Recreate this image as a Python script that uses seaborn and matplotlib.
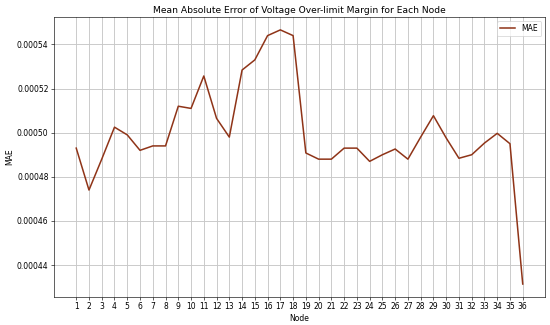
import matplotlib
matplotlib.use("Agg")
import matplotlib.pyplot as plt
import seaborn as sns
import pandas as pd

# Nodes 1..36 and their mean absolute error
nodes = list(range(1, 37))
mae = [0.000493, 0.000474, 0.000488, 0.0005025, 0.000499, 0.000492, 0.000494, 0.000494,
       0.000512, 0.000511, 0.0005257, 0.0005065, 0.000498, 0.0005284, 0.000533, 0.000544,
       0.0005466, 0.000544, 0.0004908, 0.000488, 0.000488, 0.000493, 0.000493, 0.000487,
       0.00049, 0.0004926, 0.000488, 0.000498, 0.0005077, 0.0004976, 0.0004884, 0.00049,
       0.0004953, 0.0004997, 0.000495, 0.0004314]

df = pd.DataFrame({'idx': range(len(nodes)), 'Node': nodes, 'MAE': mae})

fig, ax = plt.subplots(figsize=(10, 5.91), dpi=55)
sns.lineplot(data=df, x='idx', y='MAE', ax=ax, color='#8f3418', linewidth=2, label='MAE')

ax.set_xticks(df['idx'])
ax.set_xticklabels([str(n) for n in nodes])
ax.set_title('Mean Absolute Error of Voltage Over-limit Margin for Each Node')
ax.set_xlabel('Node')
ax.set_ylabel('MAE')
ax.grid(True, color='#c8c8c8', linewidth=1.2)
ax.legend(loc='upper right')

plt.subplots_adjust(left=0.098, right=0.991, top=0.947, bottom=0.087)
plt.savefig('out.png', dpi=55)
